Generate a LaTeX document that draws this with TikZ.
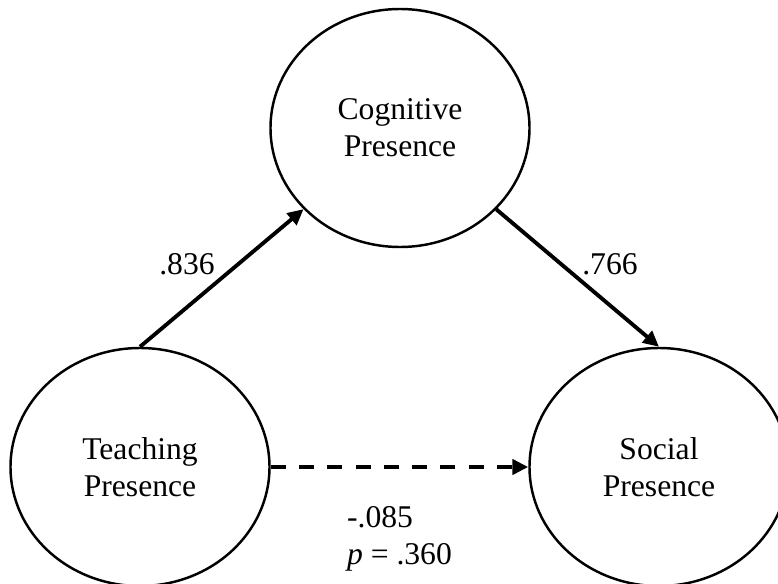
\documentclass[tikz,border=0pt]{standalone}
\usepackage{fontspec}
\setmainfont{Liberation Serif}
\usetikzlibrary{shapes.geometric}
\usetikzlibrary{arrows.meta}

\begin{document}
\begin{tikzpicture}[
  every node/.style={font=\fontsize{18}{21}\selectfont},
  latent/.style={ellipse, draw, line width=1.4pt, minimum width=259*\u, minimum height=238*\u, align=center, inner sep=0pt},
  effect/.style={line width=2.2pt, arrows={-{Triangle[length=9pt,width=8.5pt]}}},
  coef/.style={inner sep=0pt}
]
\def\u{0.02cm}

\useasboundingbox (0, 0) rectangle (778*\u, 583*\u);
\clip (0, 0) rectangle (778*\u, 583*\u);

\node (cp) [latent] at (400*\u, 455*\u) {Cognitive\\Presence};
\node (tp) [latent] at (140*\u, 116*\u) {Teaching\\Presence};
\node (sp) [latent] at (659*\u, 116*\u) {Social\\Presence};

\draw [effect] (tp.north) -- (cp);
\draw [effect] (cp) -- (sp.north);
\draw [effect, line width=2.5pt, dash pattern=on 8.5pt off 7.6pt] (tp) -- node (tpsp) [midway, coef, below=21pt, align=left] {-.085\\\textit{p} = .360} (sp);

\node (tpcp) [coef] at (187*\u, 319*\u) {.836};
\node (cpsp) [coef] at (610*\u, 319*\u) {.766};

\end{tikzpicture}
\end{document}
